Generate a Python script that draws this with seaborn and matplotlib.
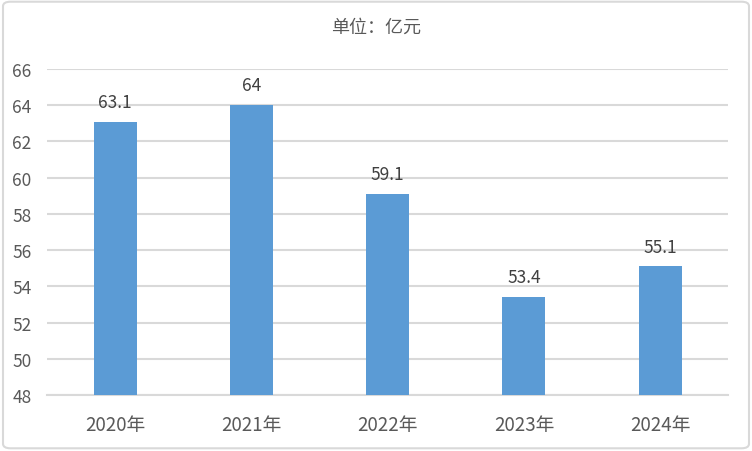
import matplotlib
matplotlib.use("Agg")
import matplotlib.pyplot as plt
import seaborn as sns
import pandas as pd
from matplotlib.patches import FancyBboxPatch

years = ["2020年", "2021年", "2022年", "2023年", "2024年"]
values = [63.1, 64, 59.1, 53.4, 55.1]
value_labels = ["63.1", "64", "59.1", "53.4", "55.1"]
y_ticks = [48, 50, 52, 54, 56, 58, 60, 62, 64, 66]

sns.set_theme(style="white")
plt.rcParams['font.family'] = ['Noto Sans CJK SC', 'DejaVu Sans']

df = pd.DataFrame({"year": years, "value": values})

fig = plt.figure(figsize=(7.52, 4.52), dpi=100)
ax = fig.add_axes([0.0625, 0.124, 0.906, 0.721])

sns.barplot(data=df, x="year", y="value", color="#5B9BD5", saturation=1,
            width=0.316, linewidth=0, ax=ax, zorder=3)

ax.set_ylim(48, 66)
ax.set_yticks(y_ticks)
ax.yaxis.grid(True, color="#D9D9D9", linewidth=1.5, zorder=0)
ax.set_axisbelow(True)
for s in ["top", "right", "left"]:
    ax.spines[s].set_visible(False)
ax.spines["bottom"].set_color("#D9D9D9")
ax.spines["bottom"].set_linewidth(1.5)
ax.tick_params(axis="both", length=0)
ax.tick_params(axis="y", labelsize=12.5, labelcolor="#595959", pad=11)
ax.tick_params(axis="x", labelsize=13.5, labelcolor="#595959", pad=14)
ax.set_xlabel("")
ax.set_ylabel("")

for i, (v, lab) in enumerate(zip(values, value_labels)):
    ax.text(i, v + 0.6, lab, ha="center", va="bottom", fontsize=12.5, color="#404040")

fig.text(0.5, 0.938, "单位：亿元", ha="center", va="center", fontsize=13, color="#595959")

border = FancyBboxPatch((0.004, 0.006), 0.992, 0.988, boxstyle="round,pad=0,rounding_size=0.01",
                        transform=fig.transFigure, fill=False, edgecolor="#D9D9D9", linewidth=1.5)
fig.patches.append(border)

fig.savefig("out.png", dpi=100)
